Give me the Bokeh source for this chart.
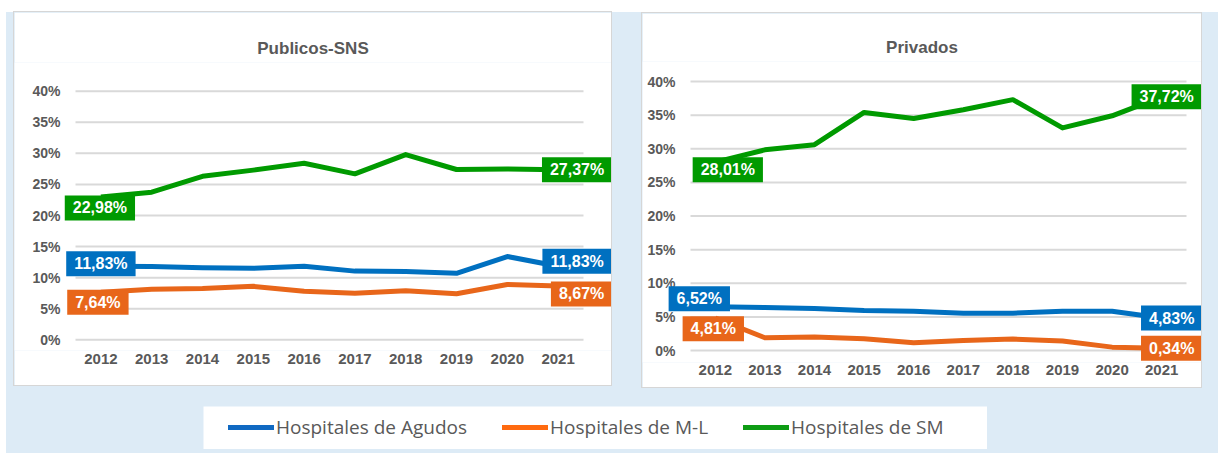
from bokeh.plotting import figure
from bokeh.models import (Range1d, FixedTicker, NumeralTickFormatter,
                          Label, Legend, LegendItem, Spacer)
from bokeh.core.properties import value
from bokeh.layouts import row, column
from bokeh.embed import file_html
from bokeh.resources import INLINE

# ---------------- data ----------------
years = [2012, 2013, 2014, 2015, 2016, 2017, 2018, 2019, 2020, 2021]
series_names = ["Hospitales de Agudos", "Hospitales de M-L", "Hospitales de SM"]

sns_agudos = [11.83, 11.80, 11.60, 11.50, 11.85, 11.05, 11.00, 10.70, 13.40, 11.83]
sns_ml = [7.64, 8.15, 8.25, 8.60, 7.80, 7.50, 7.90, 7.40, 8.90, 8.67]
sns_sm = [22.98, 23.75, 26.30, 27.30, 28.40, 26.70, 29.80, 27.40, 27.50, 27.37]

priv_agudos = [6.52, 6.40, 6.25, 5.95, 5.85, 5.55, 5.55, 5.85, 5.85, 4.83]
priv_ml = [4.81, 1.90, 2.00, 1.75, 1.15, 1.50, 1.70, 1.40, 0.50, 0.34]
priv_sm = [28.01, 29.84, 30.60, 35.40, 34.50, 35.80, 37.30, 33.10, 34.90, 37.72]

y_ticks = [0, 5, 10, 15, 20, 25, 30, 35, 40]
y_tick_labels = ["0%", "5%", "10%", "15%", "20%", "25%", "30%", "35%", "40%"]

# ---------------- styles ----------------
line_colors = ["#0070C0", "#E8661A", "#009A00"]
legend_colors = ["#1069C2", "#FF6A10", "#0E9C14"]
BG_BLUE = "#DDEBF6"
GRAY_TXT = "#595959"
FONT = "Liberation Sans"

# label offsets (screen px) for first / last point of each series
sns_offsets = [((0, 2.5), (19, 5)), ((-3, -10), (23.5, -8)), ((-1, -11), (19, 0))]
priv_offsets = [((-16, 8), (10, 0)), ((-2, -10.5), (10, 0)), ((12.5, -7.5), (5, 0))]


def fmt(v):
    return ("%.2f%%" % v).replace(".", ",")


def make_panel(title, series, offsets, width, height, xr, yr, mb_top, mb_bottom, x_standoff):
    p = figure(x_range=Range1d(*xr), y_range=Range1d(*yr),
               width=width, height=height, output_backend="svg", toolbar_location=None,
               min_border_left=0, min_border_right=0,
               min_border_top=mb_top, min_border_bottom=mb_bottom)
    p.title.text = title
    p.title.align = "center"
    p.title.text_font = FONT
    p.title.text_font_size = "17px"
    p.title.text_font_style = "bold"
    p.title.text_color = GRAY_TXT
    p.title.standoff = 10
    p.outline_line_color = None
    p.background_fill_color = "white"
    p.border_fill_color = "white"
    p.styles = {"outline": "1px solid #D6D6D6"}
    p.grid.grid_line_color = None
    p.yaxis.visible = False

    xa = p.xaxis[0]
    xa.ticker = FixedTicker(ticks=years)
    xa.formatter = NumeralTickFormatter(format="0")
    xa.axis_line_color = None
    xa.major_tick_line_color = None
    xa.minor_tick_line_color = None
    xa.major_label_text_font = FONT
    xa.major_label_text_font_style = "bold"
    xa.major_label_text_color = GRAY_TXT
    xa.major_label_text_font_size = "15px"
    xa.major_label_standoff = x_standoff

    # horizontal grid lines spanning the category band
    x_lo = years[0] - 0.5
    x_hi = years[-1] + 0.5
    p.segment(x0=[x_lo] * len(y_ticks), x1=[x_hi] * len(y_ticks), y0=y_ticks, y1=y_ticks,
              line_color="#D9D9D9", line_width=2)
    # y tick labels
    p.text(x=[x_lo] * len(y_ticks), y=y_ticks, text=y_tick_labels, x_offset=-15,
           text_align="right", text_baseline="middle", text_font=value(FONT),
           text_font_size="14px", text_font_style="bold", text_color=GRAY_TXT)

    for vals, col in zip(series, line_colors):
        p.line(x=years, y=vals, line_color=col, line_width=5, line_join="round")

    for vals, col, offs in zip(series, line_colors, offsets):
        for idx, (dx, dy) in zip((0, len(years) - 1), offs):
            p.add_layout(Label(x=years[idx], y=vals[idx], text=fmt(vals[idx]),
                               x_offset=dx, y_offset=dy,
                               text_align="center", text_baseline="middle",
                               text_color="white", text_font=FONT,
                               text_font_size="16px", text_font_style="bold",
                               background_fill_color=col,
                               padding=dict(left=8, right=8, top=4, bottom=4)))
    return p


left = make_panel("Publicos-SNS", [sns_agudos, sns_ml, sns_sm], sns_offsets,
                  597, 373, (2010.2992, 2022.0512), (-1.7217, 44.618), 50, 35, -3)
right = make_panel("Privados", [priv_agudos, priv_ml, priv_sm], priv_offsets,
                   559, 374, (2010.5323, 2021.8024), (-1.784, 42.974), 48, 25, -4)

# ---------------- legend ----------------
leg = figure(width=784, height=43, x_range=Range1d(0, 1), y_range=Range1d(0, 1),
             output_backend="svg", toolbar_location=None,
             min_border_left=0, min_border_right=0, min_border_top=0, min_border_bottom=0)
leg.axis.visible = False
leg.grid.grid_line_color = None
leg.outline_line_color = None
leg.background_fill_color = "white"
leg.border_fill_color = "white"
items = []
for name, col in zip(series_names, legend_colors):
    # swatch-only renderer, kept outside the visible range
    r = leg.line(x=[-3, -2], y=[-3, -2], line_color=col, line_width=5, line_cap="round")
    items.append(LegendItem(label=name, renderers=[r]))
legend = Legend(items=items, orientation="horizontal", location=(25, 9),
                glyph_width=46, glyph_height=22, label_height=22, label_standoff=2,
                spacing=35, padding=0, margin=0, border_line_color=None,
                background_fill_alpha=0, label_text_font="Open Sans",
                label_text_font_size="19px", label_text_color=GRAY_TXT)
leg.add_layout(legend, "center")

top_row = row(Spacer(width=8, height=373), left, Spacer(width=31, height=373),
              column(Spacer(width=559, height=1), right), Spacer(width=17, height=373))
bottom_row = row(Spacer(width=197, height=43), leg)
blue = column(top_row, Spacer(width=10, height=19), bottom_row, Spacer(width=10, height=4),
              styles={"background-color": BG_BLUE})
root = column(Spacer(width=10, height=12), row(Spacer(width=6, height=10), blue))

open("out.html", "w").write(file_html(root, INLINE, title="Hospitales"))
